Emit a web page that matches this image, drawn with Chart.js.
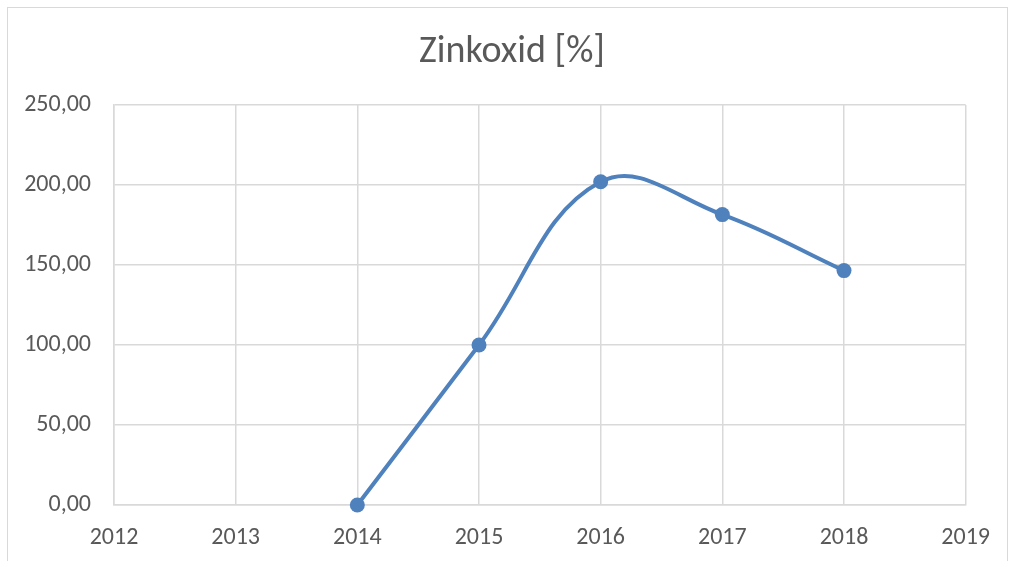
<!DOCTYPE html>
<html>
<head>
<meta charset="utf-8">
<script src="https://cdn.jsdelivr.net/npm/chart.js@4"></script>
<style>
  html, body { margin: 0; padding: 0; background: #fff; overflow: hidden; }
  #wrap { position: relative; width: 1009px; height: 561px; }
  #frame {
    position: absolute; left: 7px; top: 7px; width: 999px; height: 600px;
    border: 1px solid #d9d9d9; pointer-events: none;
  }
</style>
</head>
<body>
<div id="wrap">
  <canvas id="chart" width="1009" height="561"></canvas>
  <div id="frame"></div>
</div>
<script>
// Daten
const years = [2014, 2015, 2016, 2017, 2018];
const values = [0, 100, 202, 181.5, 146.5];
const xMin = 2012, xMax = 2019;
const yMin = 0, yMax = 250, yStep = 50;
const titleText = 'Zinkoxid [%]';

const textColor = '#595959';
const gridColor = '#d9d9d9';
const lineColor = '#4f81bd';
const fontFamily = 'Carlito, "Open Sans", "Liberation Sans", sans-serif';

const points = years.map((y, i) => ({ x: y, y: values[i] }));

// Titel selbst zeichnen, der sitzt im Original etwas rechts der Mitte
const titlePlugin = {
    id: 'excelTitle',
    afterDraw(chart) {
        const ctx = chart.ctx;
        ctx.save();
        ctx.font = '38px ' + fontFamily;
        ctx.fillStyle = textColor;
        ctx.textAlign = 'center';
        ctx.textBaseline = 'middle';
        ctx.fillText(titleText, 512, 52);
        ctx.restore();
    }
};

new Chart(document.getElementById('chart'), {
    type: 'line',
    data: {
        datasets: [{
            label: titleText,
            data: points,
            borderColor: lineColor,
            backgroundColor: lineColor,
            borderWidth: 4,
            pointRadius: 7.5,
            pointHoverRadius: 7.5,
            pointBorderWidth: 0,
            tension: 0.4,
            clip: false,
            fill: false
        }]
    },
    plugins: [titlePlugin],
    options: {
        responsive: false,
        animation: false,
        layout: { padding: { left: 0, right: 43, top: 105, bottom: 0 } },
        plugins: {
            legend: { display: false },
            tooltip: { enabled: false },
            title: { display: false }
        },
        scales: {
            x: {
                type: 'linear',
                min: xMin,
                max: xMax,
                grid: { color: gridColor, lineWidth: 1.5, drawTicks: false },
                border: { color: gridColor, width: 1.5 },
                ticks: {
                    stepSize: 1,
                    color: textColor,
                    padding: 19,
                    font: { family: fontFamily, size: 24 },
                    callback: v => String(v)
                },
                afterFit: s => { s.height = 56; }
            },
            y: {
                min: yMin,
                max: yMax,
                grid: { color: gridColor, lineWidth: 1.5, drawTicks: false },
                border: { color: gridColor, width: 1.5 },
                ticks: {
                    stepSize: yStep,
                    color: textColor,
                    padding: 23,
                    font: { family: fontFamily, size: 24 },
                    callback: v => v.toFixed(2).replace('.', ',')
                },
                afterFit: s => { s.width = 114; }
            }
        }
    }
});
</script>
</body>
</html>
